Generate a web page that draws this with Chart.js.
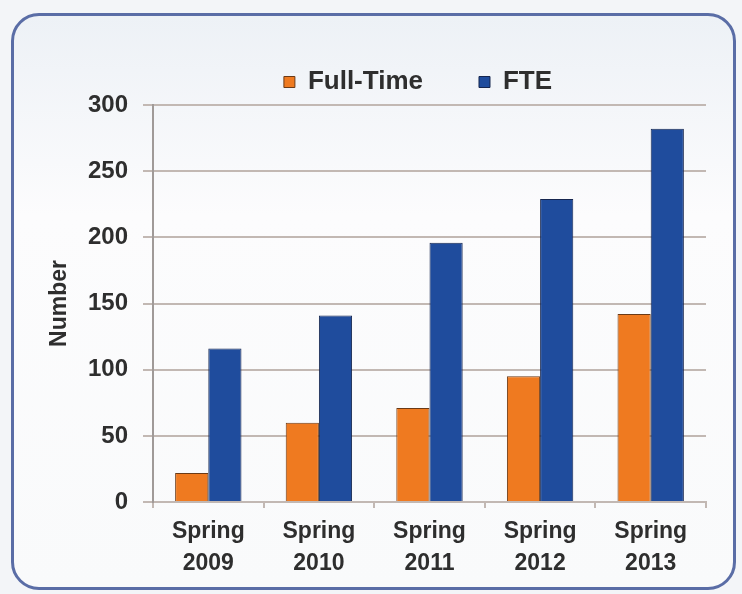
<!DOCTYPE html>
<html>
<head>
<meta charset="utf-8">
<script src="https://cdn.jsdelivr.net/npm/chart.js@4.4.1/dist/chart.umd.min.js"></script>
<style>
  html, body { margin: 0; padding: 0; background: #f3f5f8; }
  #panel {
    position: absolute; left: 11px; top: 13px; width: 719px; height: 571px;
    border: 3px solid #5a6da6; border-radius: 28px;
    background: linear-gradient(#edf1f6, #fcfcfd 35%, #f9fafb);
  }
  #wrap { position: absolute; left: 0; top: 0; width: 742px; height: 594px; }
</style>
</head>
<body>
<div id="panel"></div>
<div id="wrap"><canvas id="chart"></canvas></div>
<script>
  // dane
  const categories = [
    ["Spring", "2009"],
    ["Spring", "2010"],
    ["Spring", "2011"],
    ["Spring", "2012"],
    ["Spring", "2013"],
  ];
  const fullTime = [22, 60, 71, 95, 142];
  const fte = [116, 141, 196, 229, 282];
  const yTicks = [0, 50, 100, 150, 200, 250, 300];

  const FONT = "'Liberation Sans', Arial, sans-serif";
  const TEXT = "#2e2e2e";
  const GRID = "#c2b8b3";

  // przesunięcie legendy w poziomie (jak w oryginale)
  const legendShift = {
    id: "legendShift",
    afterLayout(chart) {
      const lg = chart.legend;
      if (!lg) return;
      lg.left += 44;
      lg.right += 44;
    },
  };

  new Chart(document.getElementById("chart"), {
    type: "bar",
    data: {
      labels: categories,
      datasets: [
        {
          label: "Full-Time",
          data: fullTime,
          backgroundColor: "#ef7a20",
          borderColor: "#6b3a16",
          borderWidth: 1,
        },
        {
          label: "FTE",
          data: fte,
          backgroundColor: "#1f4c9d",
          borderColor: "#16264f",
          borderWidth: 1,
        },
      ],
    },
    plugins: [legendShift],
    options: {
      responsive: true,
      maintainAspectRatio: false,
      animation: false,
      datasets: { bar: { categoryPercentage: 0.6, barPercentage: 1 } },
      layout: { padding: { left: 42, right: 36, top: 13, bottom: 6 } },
      plugins: {
        tooltip: { enabled: false },
        legend: {
          position: "top",
          labels: {
            font: { family: FONT, size: 26, weight: "bold" },
            color: TEXT,
            boxWidth: 11,
            boxHeight: 11,
            padding: 56,
          },
        },
      },
      scales: {
        x: {
          grid: {
            drawOnChartArea: false,
            drawTicks: true,
            tickLength: 6,
            color: GRID,
            lineWidth: 2,
          },
          border: { color: GRID, width: 2 },
          ticks: {
            color: TEXT,
            padding: 8,
            maxRotation: 0,
            font: { family: FONT, size: 23, weight: "bold", lineHeight: 1.39 },
          },
        },
        y: {
          min: yTicks[0],
          max: yTicks[yTicks.length - 1],
          afterFit: (scale) => { scale.width = 111; },
          afterBuildTicks: (scale) => { scale.ticks = yTicks.map((v) => ({ value: v })); },
          grid: { color: GRID, lineWidth: 2, tickLength: 10 },
          border: { color: "#a09a98", width: 2 },
          ticks: {
            color: TEXT,
            padding: 15,
            font: { family: FONT, size: 24, weight: "bold" },
          },
          title: {
            display: true,
            text: "Number",
            color: TEXT,
            font: { family: FONT, size: 23, weight: "bold" },
          },
        },
      },
    },
  });
</script>
</body>
</html>
